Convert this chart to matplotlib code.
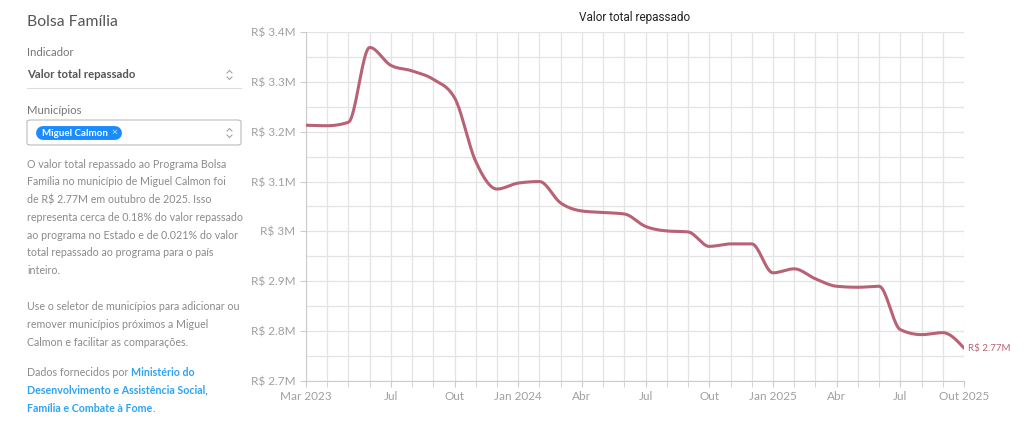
import matplotlib
matplotlib.use("Agg")
import matplotlib.pyplot as plt
from matplotlib.patches import FancyBboxPatch
from matplotlib.lines import Line2D
from matplotlib.ticker import FuncFormatter, MultipleLocator
import numpy as np

# valores mensais (R$ milhões), mar/2023 a out/2025
meses = ['Mar 2023', 'Abr', 'Mai', 'Jun', 'Jul', 'Ago', 'Set', 'Out', 'Nov', 'Dez',
         'Jan 2024', 'Fev', 'Mar', 'Abr', 'Mai', 'Jun', 'Jul', 'Ago', 'Set', 'Out', 'Nov', 'Dez',
         'Jan 2025', 'Fev', 'Mar', 'Abr', 'Mai', 'Jun', 'Jul', 'Ago', 'Set', 'Out 2025']
valores = [3.213, 3.212, 3.219, 3.369, 3.333, 3.322, 3.305, 3.268, 3.140, 3.085,
           3.097, 3.100, 3.057, 3.041, 3.038, 3.035, 3.010, 3.001, 2.999, 2.970,
           2.975, 2.975, 2.917, 2.925, 2.905, 2.890, 2.888, 2.890, 2.803, 2.793,
           2.797, 2.766]
meses_rotulo = [0, 4, 7, 10, 13, 16, 19, 22, 25, 28, 31]
rotulos_x = ['Mar 2023', 'Jul', 'Out', 'Jan 2024', 'Abr', 'Jul', 'Out',
             'Jan 2025', 'Abr', 'Jul', 'Out 2025']
ultimo_rotulo = 'R$ 2.77M'

COR_LINHA = '#b86275'
CINZA = '#a0a0a0'
TEXTO = '#8a8a8a'
AZUL = '#2ea3f2'

plt.rcParams['font.family'] = ['Lato', 'DejaVu Sans']


def monotone(y, n=20):
    """curva monotona (estilo d3 curveMonotoneX) so para desenhar a linha"""
    y = np.asarray(y, dtype=float)
    s = np.diff(y)
    m = np.zeros_like(y)
    for k in range(1, len(y) - 1):
        s0, s1 = s[k - 1], s[k]
        p = (s0 + s1) / 2
        m[k] = (np.sign(s0) + np.sign(s1)) * min(abs(s0), abs(s1), 0.5 * abs(p))
    m[0] = (3 * s[0] - m[1]) / 2
    m[-1] = (3 * s[-1] - m[-2]) / 2
    xs, ys = [], []
    t = np.linspace(0, 1, n, endpoint=False)
    for k in range(len(y) - 1):
        h00 = 2 * t**3 - 3 * t**2 + 1
        h10 = t**3 - 2 * t**2 + t
        h01 = -2 * t**3 + 3 * t**2
        h11 = t**3 - t**2
        xs.append(k + t)
        ys.append(h00 * y[k] + h10 * m[k] + h01 * y[k + 1] + h11 * m[k + 1])
    xs.append([len(y) - 1])
    ys.append([y[-1]])
    return np.concatenate(xs), np.concatenate(ys)


fig = plt.figure(figsize=(10.24, 4.32), dpi=100)
W, H = 1024, 432


def fx(px):
    return px / W


def fy(py):
    return 1 - py / H


ax = fig.add_axes([fx(306), fy(381), fx(964) - fx(306), fy(32) - fy(381)])
x = np.arange(len(valores))
cx, cy = monotone(valores)
ax.plot(cx, cy, color=COR_LINHA, lw=2.2, solid_capstyle='round', zorder=3)
ax.text(x[-1] + 0.2, valores[-1], ultimo_rotulo, color=COR_LINHA, fontsize=7,
        va='center', ha='left')

ax.set_xlim(0, len(valores) - 1)
ax.set_ylim(2.7, 3.4)
ax.set_xticks(x, minor=True)
ax.set_xticks(meses_rotulo)
ax.set_xticklabels(rotulos_x)
ax.yaxis.set_major_locator(MultipleLocator(0.1))
ax.yaxis.set_minor_locator(MultipleLocator(0.05))
ax.yaxis.set_major_formatter(FuncFormatter(lambda v, p: 'R$ {:g}M'.format(round(v, 2))))
ax.grid(True, which='both', color='#e3e3e3', lw=0.9)
ax.set_axisbelow(True)
for sp in ['top', 'right']:
    ax.spines[sp].set_visible(False)
for sp in ['left', 'bottom']:
    ax.spines[sp].set_color('#cccccc')
ax.tick_params(axis='both', which='both', colors='#cccccc', labelcolor=CINZA,
               labelsize=8.5, length=4)
ax.tick_params(axis='y', which='minor', length=0)
ax.set_title('Valor total repassado', fontsize=8.5, color='#222222',
             family=['Roboto', 'DejaVu Sans'], pad=8)

# painel lateral
fig.text(fx(27), fy(22), 'Bolsa Família', fontsize=11.3, color='#555555', va='center')
fig.text(fx(27), fy(53), 'Indicador', fontsize=8.2, color='#777777', va='center')
fig.text(fx(27), fy(75), 'Valor total repassado', fontsize=8.2, color='#555555',
         weight='bold', va='center')
fig.add_artist(Line2D([fx(27), fx(241)], [fy(88), fy(88)], color='#dddddd', lw=0.8))
fig.text(fx(27), fy(111), 'Municípios', fontsize=8.2, color='#777777', va='center')
fig.add_artist(FancyBboxPatch((fx(27), fy(145)), fx(241) - fx(27), fy(120) - fy(145),
                              boxstyle='round,pad=0,rounding_size=0.004',
                              fc='white', ec='#bbbbbb', lw=0.8))
# etiqueta azul em forma de pílula
fig.add_artist(Line2D([fx(43), fx(115)], [fy(133), fy(133)], color='#1a8cff',
                      lw=10, solid_capstyle='round'))
fig.text(fx(42), fy(133), 'Miguel Calmon', fontsize=7, color='white', weight='bold',
         va='center')
fig.text(fx(114), fy(133), '×', fontsize=7.5, color='#d5e9ff', va='center', ha='center')

# setas dos seletores
for cyy in (75, 133):
    for d in (-1, 1):
        fig.add_artist(Line2D([fx(227), fx(229.5), fx(232)],
                              [fy(cyy + d * 2), fy(cyy + d * 4.5), fy(cyy + d * 2)],
                              color='#999999', lw=0.7))

linhas = ['O valor total repassado ao Programa Bolsa',
          'Família no município de Miguel Calmon foi',
          'de R$ 2.77M em outubro de 2025. Isso',
          'representa cerca de 0.18% do valor repassado',
          'ao programa no Estado e de 0.021% do valor',
          'total repassado ao programa para o país',
          'inteiro.',
          '',
          'Use o seletor de municípios para adicionar ou',
          'remover municípios próximos a Miguel',
          'Calmon e facilitar as comparações.']
for i, t in enumerate(linhas):
    fig.text(fx(27), fy(164 + i * 17.8), t, fontsize=7.7, color=TEXTO, va='center')

t1 = fig.text(fx(27), fy(372), 'Dados fornecidos por ', fontsize=7.7, color=TEXTO,
              va='center')
fig.canvas.draw()
r = fig.canvas.get_renderer()
bb = t1.get_window_extent(r)
fig.text(bb.x1 / W, fy(372), 'Ministério do', fontsize=7.7, color=AZUL,
         weight='bold', va='center')
fig.text(fx(27), fy(390), 'Desenvolvimento e Assistência Social,', fontsize=7.7,
         color=AZUL, weight='bold', va='center')
t2 = fig.text(fx(27), fy(408), 'Família e Combate à Fome', fontsize=7.7, color=AZUL,
              weight='bold', va='center')
fig.canvas.draw()
bb2 = t2.get_window_extent(r)
fig.text(bb2.x1 / W, fy(408), '.', fontsize=7.7, color=TEXTO, va='center')

fig.savefig('out.png', dpi=100)
